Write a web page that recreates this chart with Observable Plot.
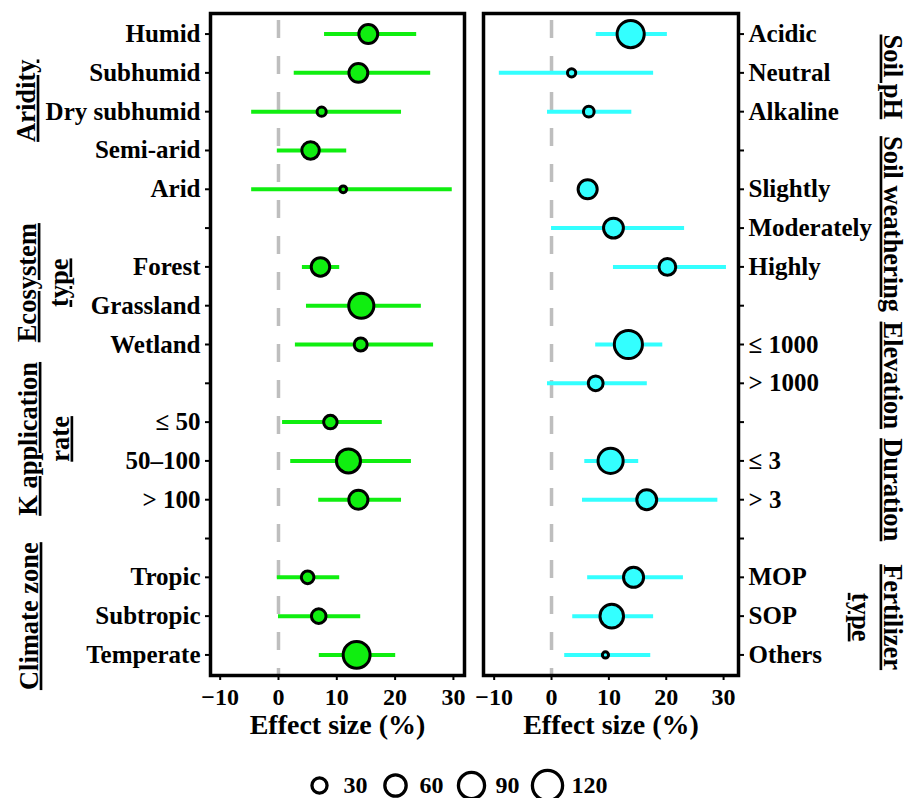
<!DOCTYPE html>
<html>
<head>
<meta charset="utf-8">
<script src="https://cdn.jsdelivr.net/npm/d3@7"></script>
<script src="https://cdn.jsdelivr.net/npm/@observablehq/plot@0.6"></script>
<style>
  body { margin: 0; background: #fff; }
  #fig { width: 913px; }
  #panels { display: flex; }
  g[aria-description="group label"] text { text-decoration: underline; }
</style>
</head>
<body>
<div id="fig"><div id="panels"></div><div id="legend"></div></div>
<script>
// ---------- Left panel data ----------
const leftLabels = ["Humid", "Subhumid", "Dry subhumid", "Semi-arid", "Arid",
  "Forest", "Grassland", "Wetland",
  "≤ 50", "50–100", "> 100",
  "Tropic", "Subtropic", "Temperate"];
const leftGroupIdx = [0, 0, 0, 0, 0, 1, 1, 1, 2, 2, 2, 3, 3, 3];
const leftGroups = ["Aridity", "Ecosystem\ntype", "K application\nrate", "Climate zone"];
const leftEffect = [15.4, 13.7, 7.4, 5.5, 11.1, 7.2, 14.2, 14.1, 8.9, 12.0, 13.7, 5.0, 6.9, 13.4];
const leftLow    = [7.9, 2.7, -4.6, -0.2, -4.6, 4.1, 4.8, 2.9, 0.7, 2.1, 6.9, -0.2, 0.0, 7.0];
const leftHigh   = [23.7, 26.1, 21.1, 11.7, 29.8, 10.5, 24.5, 26.6, 17.8, 22.8, 21.1, 10.5, 14.1, 20.1];
const leftN      = [47, 47, 11, 40, 6, 45, 83, 22, 24, 76, 48, 21, 28, 95];

// ---------- Right panel data ----------
const rightLabels = ["Acidic", "Neutral", "Alkaline",
  "Slightly", "Moderately", "Highly",
  "≤ 1000", "> 1000",
  "≤ 3", "> 3",
  "MOP", "SOP", "Others"];
const rightGroupIdx = [0, 0, 0, 1, 1, 1, 2, 2, 3, 3, 4, 4, 4];
const rightGroups = ["Soil pH", "Soil weathering", "Elevation", "Duration", "Fertilizer\ntype"];
const rightEffect = [13.8, 3.5, 6.5, 6.3, 10.8, 20.2, 13.4, 7.7, 10.3, 16.6, 14.3, 10.5, 9.4];
const rightLow    = [7.8, -9.1, -0.7, 4.9, 0.0, 10.8, 7.7, -0.7, 5.8, 5.4, 6.3, 3.7, 2.3];
const rightHigh   = [20.2, 17.8, 14.0, 7.7, 23.2, 30.5, 19.4, 16.7, 15.2, 29.0, 23.0, 17.8, 17.3];
const rightN      = [97, 9, 15, 48, 52, 37, 104, 29, 83, 52, 53, 73, 5];

// ---------- Legend ----------
const legendSizes = [30, 60, 90, 120];
const xTicks = [-10, 0, 10, 20, 30];

const GREEN = "#10ee10";
const CYAN = "#33ffff";
const FONT = "'Liberation Serif', 'Times New Roman', serif";
const rScale = {type: "sqrt", domain: [0, 120], range: [0, 15.1]};

function buildSlots(labels, groupIdx) {
  const slots = [];
  labels.forEach((l, i) => {
    if (i > 0 && groupIdx[i] !== groupIdx[i - 1]) slots.push("gap" + i);
    slots.push(l);
  });
  return slots;
}

function panel(cfg) {
  const slots = buildSlots(cfg.labels, cfg.groupIdx);
  const data = cfg.labels.map((label, i) => ({
    label, effect: cfg.effect[i], lo: cfg.lo[i], hi: cfg.hi[i], n: cfg.n[i]
  }));
  const groupMarks = cfg.groups.map((g, k) => {
    const p = cfg.groupPlace[k];
    return Plot.text([g], {
      y: () => p.anchor,
      frameAnchor: cfg.axisAnchor,
      dx: p.dx, dy: p.dy,
      rotate: cfg.rotate,
      fontSize: 26.5,
      lineHeight: 1.2,
      textAnchor: "middle",
      lineAnchor: "middle",
      ariaDescription: "group label"
    });
  });
  return Plot.plot({
    width: cfg.width, height: 740,
    marginTop: 13, marginBottom: 65,
    marginLeft: cfg.marginLeft, marginRight: cfg.marginRight,
    style: {fontFamily: FONT, fontWeight: "bold", fontSize: "24px", color: "black", background: "white", overflow: "visible"},
    x: {domain: cfg.xDomain},
    y: {type: "point", domain: slots, padding: 0.53, round: false},
    r: rScale,
    marks: [
      Plot.ruleX([0], {stroke: "#bebebe", strokeWidth: 3.5, strokeDasharray: "18,18", strokeDashoffset: 29}),
      Plot.ruleY(data, {y: "label", x1: "lo", x2: "hi", stroke: cfg.color, strokeWidth: 4}),
      Plot.dot(data, {x: "effect", y: "label", r: "n", fill: cfg.color, stroke: "black", strokeWidth: 3}),
      Plot.frame({stroke: "black", strokeWidth: 3.5}),
      Plot.axisX({ticks: xTicks, tickSize: 5, tickPadding: 7, strokeWidth: 2, label: null, fontSize: 24}),
      Plot.axisY({anchor: cfg.axisAnchor, tickSize: 5, tickPadding: 5, strokeWidth: 2, label: null, fontSize: 25,
        tickFormat: d => d.startsWith("gap") ? "" : d}),
      Plot.text(["Effect size (%)"], {frameAnchor: "bottom", dy: 50, fontSize: 28, lineAnchor: "middle"}),
      ...groupMarks
    ]
  });
}

const left = panel({
  labels: leftLabels, groupIdx: leftGroupIdx, groups: leftGroups,
  effect: leftEffect, lo: leftLow, hi: leftHigh, n: leftN,
  color: GREEN, xDomain: [-11.66, 31.9],
  width: 470, marginLeft: 210, marginRight: 6,
  axisAnchor: "left", rotate: -90,
  groupPlace: [
    {anchor: "Dry subhumid", dx: -186, dy: -11},
    {anchor: "Grassland", dx: -169, dy: -23},
    {anchor: "50–100", dx: -168, dy: -22},
    {anchor: "Subtropic", dx: -183, dy: 0}
  ]
});

const right = panel({
  labels: rightLabels, groupIdx: rightGroupIdx, groups: rightGroups,
  effect: rightEffect, lo: rightLow, hi: rightHigh, n: rightN,
  color: CYAN, xDomain: [-11.86, 32.6],
  width: 443, marginLeft: 13, marginRight: 175,
  axisAnchor: "right", rotate: 90,
  groupPlace: [
    {anchor: "Neutral", dx: 156, dy: 4},
    {anchor: "Moderately", dx: 156, dy: -4},
    {anchor: "> 1000", dx: 156, dy: -8},
    {anchor: "> 3", dx: 156, dy: -10},
    {anchor: "SOP", dx: 140, dy: 1}
  ]
});

document.getElementById("panels").append(left, right);

const legend = Plot.plot({
  width: 913, height: 58,
  marginTop: 32, marginBottom: 0, marginLeft: 0, marginRight: 0,
  style: {fontFamily: FONT, fontWeight: "bold", fontSize: "24px", color: "black", background: "white", overflow: "visible"},
  x: {type: "point", domain: legendSizes, range: [318, 547], padding: 0, axis: null},
  r: rScale,
  marks: [
    Plot.dot(legendSizes, {x: d => d, r: d => d, fill: "white", stroke: "black", strokeWidth: 3.3}),
    Plot.text(legendSizes, {x: d => d, text: d => String(d), dx: 24, textAnchor: "start", fontSize: 24})
  ]
});
document.getElementById("legend").append(legend);
</script>
</body>
</html>
